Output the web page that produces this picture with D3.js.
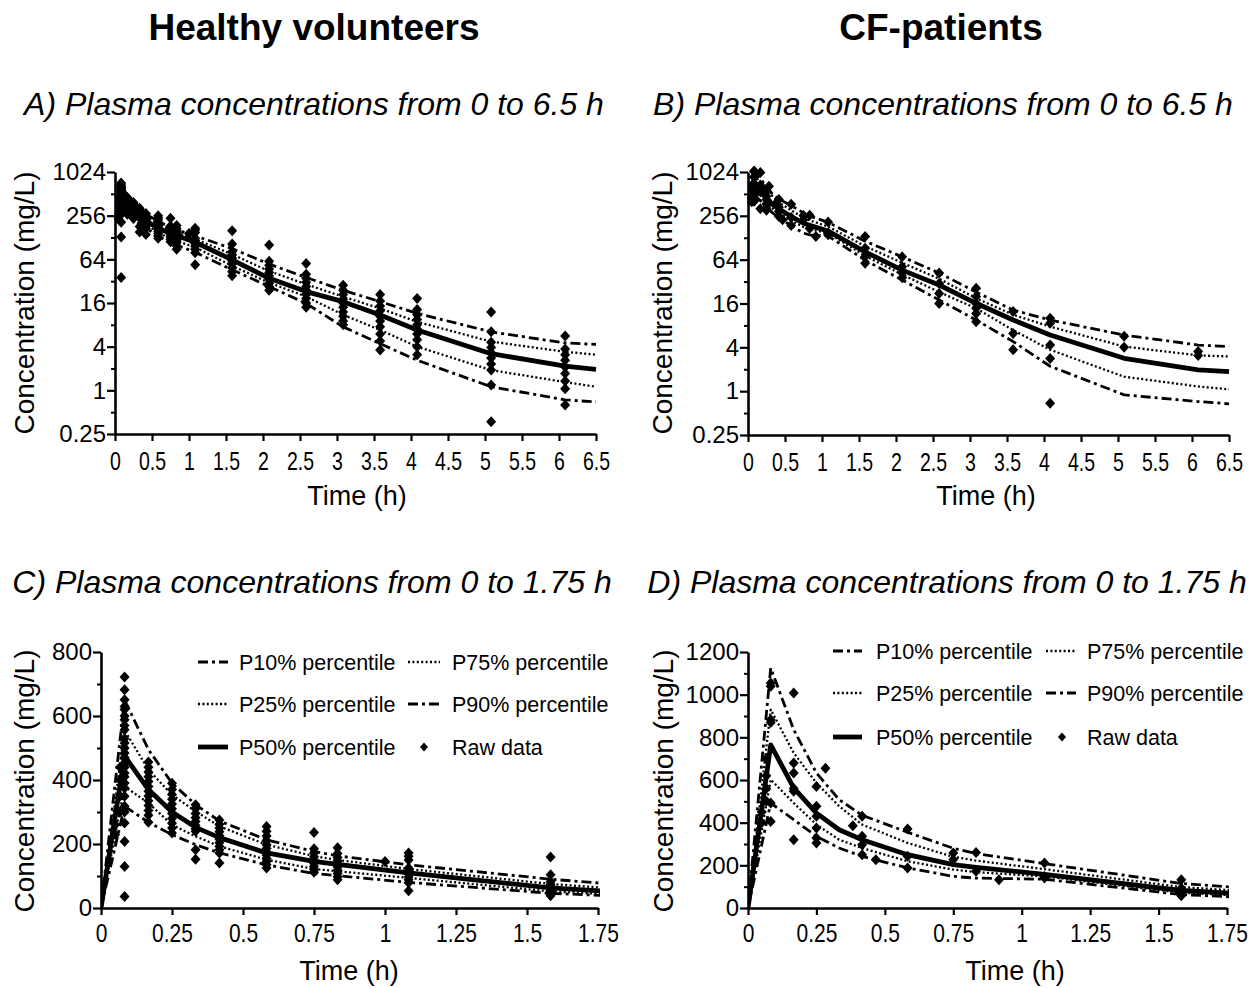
<!DOCTYPE html>
<html>
<head>
<meta charset="utf-8">
<script src="https://cdn.jsdelivr.net/npm/d3@7"></script>
<style>
  body { margin: 0; background: #fff; }
  svg { display: block; font-family: "Liberation Sans", Arial, Helvetica, sans-serif; }
</style>
</head>
<body>
<svg id="chart" width="1258" height="988"></svg>
<script>
// Nominal sampling / simulation times (h)
const sampleTimes = [0, 0.083, 0.167, 0.25, 0.333, 0.417, 0.583, 0.75, 0.833, 1.083, 1.583, 2.083, 2.583, 3.083, 3.583, 4.083, 5.083, 6.083, 6.5];

// Healthy volunteers: simulated percentiles (mg/L)
const hvP10 = [0, 318, 268, 229, 198, 172, 135, 108, 101, 80, 46, 27, 15.8, 7.5, 4.4, 2.6, 1.12, 0.74, 0.69];
const hvP25 = [0, 380, 328, 260, 224, 193, 151, 122, 115, 94, 52, 30.5, 19.6, 11, 6.8, 4.0, 1.9, 1.3, 1.12];
const hvP50 = [0, 475, 370, 300, 252, 220, 172, 146, 136, 110, 63, 35, 23, 16.7, 10.9, 6.8, 3.2, 2.16, 1.95];
const hvP75 = [0, 555, 432, 354, 302, 255, 198, 162, 150, 122, 75, 44, 29, 19.5, 13.5, 8.8, 4.7, 3.4, 3.1];
const hvP90 = [0, 650, 495, 390, 323, 272, 213, 177, 163, 135, 90, 55, 36, 24, 16.7, 11.5, 6.4, 4.5, 4.3];

// CF patients: simulated percentiles (mg/L)
const cfP10 = [0, 492, 414, 336, 281, 242, 188, 148, 140, 135, 63, 33.6, 17.9, 9.5, 4.8, 2.2, 0.89, 0.72, 0.67];
const cfP25 = [0, 602, 492, 391, 320, 281, 219, 180, 168, 148, 72, 40, 23, 13.7, 6.9, 3.7, 1.58, 1.16, 1.06];
const cfP50 = [0, 765, 563, 445, 367, 320, 250, 203, 190, 158, 82, 46, 28.7, 16.1, 9.5, 5.9, 2.83, 1.96, 1.85];
const cfP75 = [0, 930, 727, 586, 477, 391, 305, 240, 222, 182, 98, 58, 35, 18.9, 11.2, 7.7, 4.1, 3.1, 3.0];
const cfP90 = [0, 1125, 836, 633, 508, 435, 355, 280, 255, 208, 115, 70, 42, 23, 13, 9.5, 5.9, 4.3, 4.1];

// Observed concentrations, grouped by sampling time
const hvRawTimes = [0.05, 0.067, 0.083, 0.167, 0.25, 0.333, 0.417, 0.583, 0.75, 0.833, 1.0, 1.083, 1.583, 2.083, 2.583, 3.083, 3.583, 4.083, 5.083, 6.083];
const hvRawConc = [
  [230, 260],
  [300, 350, 400, 440],
  [722, 682, 651, 630, 620, 600, 588, 570, 557, 530, 516, 500, 484, 470, 453, 440, 422, 410, 391, 375, 349, 318, 300, 266, 208, 130, 36],
  [456, 440, 425, 410, 395, 380, 365, 350, 335, 320, 305, 290, 268],
  [390, 370, 355, 340, 325, 310, 295, 280, 265, 250, 234],
  [323, 310, 295, 282, 270, 258, 248, 240, 182, 152],
  [275, 262, 250, 238, 226, 215, 204, 192, 182, 172, 141],
  [255, 240, 225, 210, 198, 186, 175, 165, 155, 145, 135, 125],
  [236, 185, 172, 160, 150, 140, 130, 120, 112],
  [188, 170, 158, 148, 138, 128, 118, 108, 98, 88],
  [145],
  [172, 162, 150, 125, 115, 106, 97, 88, 79, 54],
  [159, 104, 82, 74, 67, 61, 55, 49, 43, 38],
  [101, 60, 53, 47, 42, 38, 34, 30, 27, 24],
  [56, 40, 35, 31, 27, 24, 21, 18.5, 16, 14],
  [28, 24, 21, 18, 16, 14, 12, 10.5, 9, 8],
  [21, 17, 14.5, 12.5, 10.5, 9, 7.5, 6, 4.8, 3.6],
  [18.5, 13, 11, 9.5, 8, 7, 6, 5, 4, 3.1],
  [12, 6.4, 4.6, 3.9, 3.3, 2.8, 2.3, 1.9, 1.18, 0.37],
  [5.6, 3.7, 3.1, 2.6, 2.1, 1.7, 1.35, 1.05, 0.63]
];
const cfRawTimes = [0.05, 0.067, 0.083, 0.167, 0.25, 0.283, 0.383, 0.417, 0.467, 0.583, 0.75, 0.833, 0.917, 1.083, 1.583, 2.083, 2.583, 3.083, 3.583, 4.083, 5.083, 6.083];
const cfRawConc = [
  [400, 450],
  [500, 560, 620, 700],
  [1055, 1040, 883, 870, 492, 406],
  [1008, 680, 633, 560, 547, 320],
  [570, 477, 430, 375, 328, 305],
  [655],
  [385],
  [430, 336, 297, 250],
  [226],
  [370, 242, 188],
  [258, 227],
  [260, 172],
  [133],
  [211, 148, 141],
  [133, 92, 70, 57],
  [70, 51, 42, 36],
  [42, 30, 22, 16],
  [26, 20, 16, 13.8, 11.7, 9],
  [12.4, 6.2, 3.7],
  [10, 8.6, 4.3, 2.8, 0.68],
  [5.7, 4.0],
  [3.5, 3.1]
];

// Axis ticks
const logTicks = [0.25, 1, 4, 16, 64, 256, 1024];
const logMinorTicks = [0.5, 2, 8, 32, 128, 512];
const longTimeTicks = [0, 0.5, 1, 1.5, 2, 2.5, 3, 3.5, 4, 4.5, 5, 5.5, 6, 6.5];
const shortTimeTicks = [0, 0.25, 0.5, 0.75, 1, 1.25, 1.5, 1.75];
const hvLinTicks = [0, 200, 400, 600, 800];
const hvLinMinor = [100, 300, 500, 700];
const cfLinTicks = [0, 200, 400, 600, 800, 1000, 1200];
const cfLinMinor = [100, 300, 500, 700, 900, 1100];

// Legend entries
const legendLabels = ["P10% percentile", "P25% percentile", "P50% percentile", "P75% percentile", "P90% percentile", "Raw data"];

const lineStyle = {
  P10: { dash: "10,4,3,4", width: 2.8 },
  P25: { dash: "2,2.4", width: 2.3 },
  P50: { dash: null, width: 4.8 },
  P75: { dash: "2,2.4", width: 2.3 },
  P90: { dash: "10,4,3,4", width: 2.8 }
};
const diamond = "M0,-5.5L5,0L0,5.5L-5,0Z";

const svg = d3.select("#chart");

// Column headings
svg.append("text").attr("x", 314).attr("y", 40).attr("text-anchor", "middle")
  .attr("font-size", 37).attr("font-weight", "bold").text("Healthy volunteers");
svg.append("text").attr("x", 941).attr("y", 40).attr("text-anchor", "middle")
  .attr("font-size", 37).attr("font-weight", "bold").text("CF-patients");

function drawPanel(p) {
  const g = svg.append("g");
  const x = d3.scaleLinear().domain(p.xDomain).range([p.left, p.right]);
  const y = (p.log ? d3.scaleLog().base(2) : d3.scaleLinear()).domain(p.yDomain).range([p.bottom, p.top]);

  // Subtitle
  g.append("text").attr("x", p.subX).attr("y", p.subY).attr("text-anchor", "middle")
    .attr("font-size", 32).attr("font-style", "italic").text(p.subtitle);

  // Clip to the plotting window
  const clipId = "clip-" + p.id;
  g.append("clipPath").attr("id", clipId).append("rect")
    .attr("x", p.left).attr("y", p.top - 60).attr("width", p.right - p.left + 2).attr("height", p.bottom - p.top + 60);

  const plot = g.append("g").attr("clip-path", `url(#${clipId})`);
  const line = d3.line().x(d => x(d[0])).y(d => y(d[1]));

  const series = [["P10", p.lines[0]], ["P25", p.lines[1]], ["P75", p.lines[3]], ["P90", p.lines[4]], ["P50", p.lines[2]]];
  series.forEach(([key, vals]) => {
    const pts = sampleTimes.map((t, i) => [t, vals[i]]).filter(d => !p.log || d[1] > 0);
    const st = lineStyle[key];
    plot.append("path").datum(pts).attr("d", line)
      .attr("fill", "none").attr("stroke", "#000").attr("stroke-width", st.width)
      .attr("stroke-dasharray", st.dash).attr("stroke-linejoin", "round");
  });

  // Raw observations
  const raw = [];
  p.rawTimes.forEach((t, i) => p.rawConc[i].forEach(c => raw.push([t, c])));
  g.append("g").selectAll("path").data(raw.filter(d => d[0] <= p.xDomain[1]))
    .join("path").attr("d", diamond)
    .attr("transform", d => `translate(${x(d[0])},${y(d[1])})`).attr("fill", "#000");

  // Axes
  const yAxis = d3.axisLeft(y).tickValues(p.yTicks).tickFormat(d => String(d))
    .tickSize(8).tickSizeOuter(0).tickPadding(1);
  const ya = g.append("g").attr("transform", `translate(${p.left},0)`).call(yAxis);
  ya.select(".domain").attr("stroke-width", 2.6);
  ya.selectAll(".tick line").attr("stroke-width", 2.2);
  ya.selectAll(".tick text").attr("font-size", 24).attr("font-family", null).attr("fill", "#000");

  const yMinorAxis = d3.axisLeft(y).tickValues(p.yMinor).tickFormat("").tickSize(4).tickSizeOuter(0);
  const ym = g.append("g").attr("transform", `translate(${p.left},0)`).call(yMinorAxis);
  ym.select(".domain").remove();
  ym.selectAll(".tick line").attr("stroke-width", 2);

  const xAxis = d3.axisBottom(x).tickValues(p.xTicks).tickFormat(d => String(d))
    .tickSize(7).tickSizeOuter(0).tickPadding(p.xPad);
  const xa = g.append("g").attr("transform", `translate(0,${p.bottom})`).call(xAxis);
  xa.select(".domain").attr("stroke-width", 2.6);
  xa.selectAll(".tick line").attr("stroke-width", 2.2);
  xa.selectAll(".tick text").attr("font-size", 25).attr("font-family", null).attr("fill", "#000")
    .attr("transform", `scale(${p.xScaleX},1)`);
  svg.selectAll(".domain").attr("stroke", "#000");

  // Axis titles
  g.append("text").attr("x", p.timeX).attr("y", p.timeY).attr("text-anchor", "middle")
    .attr("font-size", 27).text("Time (h)");
  g.append("text").attr("transform", `translate(${p.ylabX},${p.ylabY}) rotate(-90)`)
    .attr("text-anchor", "middle").attr("font-size", 28).text("Concentration (mg/L)");

  // Legend (bottom panels only)
  if (p.legend) {
    const L = p.legend;
    legendLabels.forEach((lab, i) => {
      const col = i < 3 ? 0 : 1;
      const row = i % 3;
      const ly = L.rows[row];
      const sx = L.sampleX[col];
      const lg = g.append("g");
      if (lab === "Raw data") {
        lg.append("path").attr("d", diamond).attr("transform", `translate(${L.diamondX},${ly}) scale(0.8)`).attr("fill", "#000");
      } else {
        const key = lab.slice(0, 3);
        const st = lineStyle[key];
        lg.append("line").attr("x1", sx[0]).attr("x2", sx[1]).attr("y1", ly).attr("y2", ly)
          .attr("stroke", "#000").attr("stroke-width", st.width).attr("stroke-dasharray", st.dash);
      }
      lg.append("text").attr("x", L.textX[col]).attr("y", ly + 8).attr("font-size", 21.5).text(lab);
    });
  }
}

drawPanel({
  id: "A", left: 115, right: 596, top: 172, bottom: 434, log: true,
  xDomain: [0, 6.5], yDomain: [0.25, 1024], xTicks: longTimeTicks, yTicks: logTicks, yMinor: logMinorTicks,
  xPad: 11, xScaleX: 0.78,
  lines: [hvP10, hvP25, hvP50, hvP75, hvP90], rawTimes: hvRawTimes, rawConc: hvRawConc,
  subtitle: "A) Plasma concentrations from 0 to 6.5 h", subX: 314, subY: 115,
  timeX: 357, timeY: 505, ylabX: 34, ylabY: 303
});
drawPanel({
  id: "B", left: 748, right: 1229, top: 172, bottom: 435, log: true,
  xDomain: [0, 6.5], yDomain: [0.25, 1024], xTicks: longTimeTicks, yTicks: logTicks, yMinor: logMinorTicks,
  xPad: 11, xScaleX: 0.78,
  lines: [cfP10, cfP25, cfP50, cfP75, cfP90], rawTimes: cfRawTimes, rawConc: cfRawConc,
  subtitle: "B) Plasma concentrations from 0 to 6.5 h", subX: 943, subY: 115,
  timeX: 986, timeY: 505, ylabX: 672, ylabY: 303
});
drawPanel({
  id: "C", left: 101, right: 598, top: 652, bottom: 908, log: false,
  xDomain: [0, 1.75], yDomain: [0, 800], xTicks: shortTimeTicks, yTicks: hvLinTicks, yMinor: hvLinMinor,
  xPad: 9, xScaleX: 0.84,
  lines: [hvP10, hvP25, hvP50, hvP75, hvP90], rawTimes: hvRawTimes, rawConc: hvRawConc,
  subtitle: "C) Plasma concentrations from 0 to 1.75 h", subX: 312, subY: 593,
  timeX: 349, timeY: 980, ylabX: 34, ylabY: 781,
  legend: { rows: [662, 704, 747], sampleX: [[198, 228], [408, 440]], textX: [239, 452], diamondX: 424 }
});
drawPanel({
  id: "D", left: 748, right: 1227, top: 652, bottom: 908, log: false,
  xDomain: [0, 1.75], yDomain: [0, 1200], xTicks: shortTimeTicks, yTicks: cfLinTicks, yMinor: cfLinMinor,
  xPad: 9, xScaleX: 0.84,
  lines: [cfP10, cfP25, cfP50, cfP75, cfP90], rawTimes: cfRawTimes, rawConc: cfRawConc,
  subtitle: "D) Plasma concentrations from 0 to 1.75 h", subX: 947, subY: 593,
  timeX: 1015, timeY: 980, ylabX: 673, ylabY: 781,
  legend: { rows: [651, 693, 737], sampleX: [[833, 862], [1046, 1076]], textX: [876, 1087], diamondX: 1062 }
});
</script>
</body>
</html>
